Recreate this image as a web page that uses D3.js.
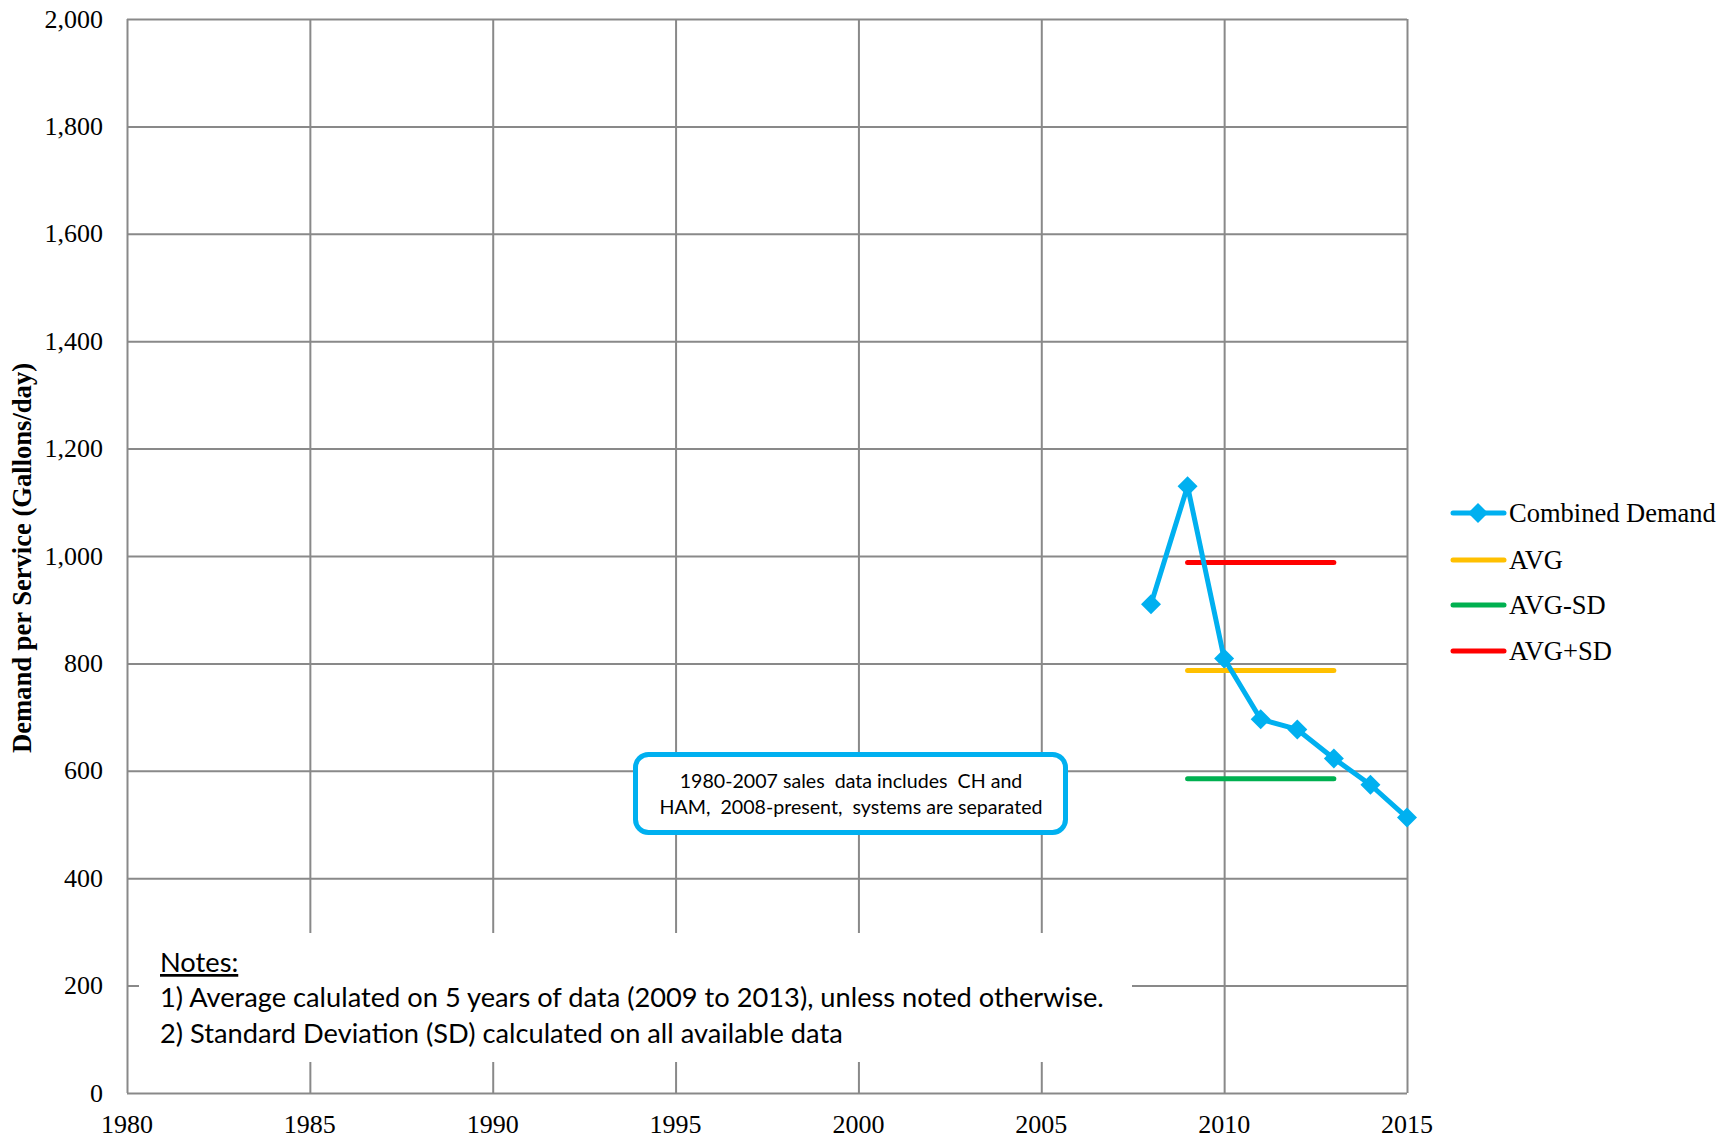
<!DOCTYPE html>
<html><head><meta charset="utf-8">
<script src="https://cdn.jsdelivr.net/npm/d3@7/dist/d3.min.js"></script>
<style>html,body{margin:0;padding:0;background:#fff;}svg{display:block;}</style>
</head><body>
<svg id="chart" width="1735" height="1142"></svg>
<script>
// ---- data ----
const years = [2008, 2009, 2010, 2011, 2012, 2013, 2014, 2015];
const combinedDemand = [910, 1130, 809, 696, 677, 623, 574, 513];
const statSpan = [2009, 2013];
const avgValue = 787;
const avgMinusSD = 585;
const avgPlusSD = 988;
const xTicks = [1980, 1985, 1990, 1995, 2000, 2005, 2010, 2015];
const yTicks = [0, 200, 400, 600, 800, 1000, 1200, 1400, 1600, 1800, 2000];
const legendLabels = ["Combined Demand", "AVG", "AVG-SD", "AVG+SD"];
const yTitle = "Demand per Service (Gallons/day)";
const noteLines = ["Notes:", "1) Average calulated on 5 years of data (2009 to 2013), unless noted otherwise.", "2) Standard Deviation (SD) calculated on all available data"];
const calloutLines = ["1980-2007 sales  data includes  CH and", "HAM,  2008-present,  systems are separated"];

// ---- layout ----
const L = 127, R = 1407, T = 19, B = 1093;
const serif = "'Liberation Serif','Times New Roman',serif";
const sans = "Lato,'Open Sans',sans-serif";
const gridColor = "#898989";
const cBlue = "#00B0F0", cAvg = "#FFC000", cLow = "#00B050", cHigh = "#FF0000";

const svg = d3.select("#chart");
const x = d3.scaleLinear().domain([1980, 2015]).range([L, R]);
const y = d3.scaleLinear().domain([0, 2000]).range([B, T]);

// gridlines via axes
svg.append("g").attr("transform", `translate(0,${B})`)
  .call(d3.axisBottom(x).tickValues(xTicks).tickSize(-(B - T)).tickFormat(""))
  .call(g => { g.select(".domain").remove(); g.selectAll("line").attr("stroke", gridColor).attr("stroke-width", 2); });
svg.append("g").attr("transform", `translate(${L},0)`)
  .call(d3.axisLeft(y).tickValues(yTicks).tickSize(-(R - L)).tickFormat(""))
  .call(g => { g.select(".domain").remove(); g.selectAll("line").attr("stroke", gridColor).attr("stroke-width", 2); });

// tick labels
svg.append("g").selectAll("text").data(yTicks).join("text")
  .attr("x", 103).attr("y", d => y(d)).attr("dy", "0.33em")
  .attr("text-anchor", "end").attr("font-family", serif).attr("font-size", 26).attr("fill", "#000")
  .text(d => d3.format(",")(d));
svg.append("g").selectAll("text").data(xTicks).join("text")
  .attr("x", d => x(d)).attr("y", 1133)
  .attr("text-anchor", "middle").attr("font-family", serif).attr("font-size", 26).attr("fill", "#000")
  .text(d => d);

// y title
function fit(sel, target) {
  const n = sel.node(); const fs = parseFloat(sel.attr("font-size"));
  const w = n.getComputedTextLength(); if (w > 0) sel.attr("font-size", (fs * target / w).toFixed(2));
}
const yt = svg.append("text").attr("transform", "translate(31,558) rotate(-90)")
  .attr("text-anchor", "middle").attr("font-family", serif).attr("font-weight", "bold")
  .attr("font-size", 27).attr("fill", "#000").text(yTitle);
fit(yt, 390);

// notes box (white, covers grid)
svg.append("rect").attr("x", 139).attr("y", 933).attr("width", 1132 - 139).attr("height", 1062 - 933).attr("fill", "#fff");
const noteG = svg.append("g");
const noteBase = [972, 1007, 1043];
const n1 = noteG.append("text").attr("x", 160).attr("y", noteBase[1]).attr("font-family", sans)
  .attr("font-size", 26).attr("fill", "#000").text(noteLines[1]);
fit(n1, 944);
const nfs = n1.attr("font-size");
noteG.append("text").attr("x", 160).attr("y", noteBase[0]).attr("font-family", sans)
  .attr("font-size", nfs).attr("fill", "#000").attr("text-decoration", "underline").text(noteLines[0]);
noteG.append("text").attr("x", 160).attr("y", noteBase[2]).attr("font-family", sans)
  .attr("font-size", nfs).attr("fill", "#000").text(noteLines[2]);

// callout box
svg.append("rect").attr("x", 635.5).attr("y", 754.5).attr("width", 430).attr("height", 78)
  .attr("rx", 13).attr("ry", 13).attr("fill", "#fff").attr("stroke", cBlue).attr("stroke-width", 5);
const c2 = svg.append("text").attr("x", 851).attr("y", 814).attr("text-anchor", "middle")
  .attr("font-family", sans).attr("font-size", 19).attr("fill", "#000")
  .style("white-space", "pre").text(calloutLines[1]);
fit(c2, 383);
svg.append("text").attr("x", 851).attr("y", 788).attr("text-anchor", "middle")
  .attr("font-family", sans).attr("font-size", c2.attr("font-size")).attr("fill", "#000")
  .style("white-space", "pre").text(calloutLines[0]);

// stat lines
const stats = [[avgPlusSD, cHigh], [avgValue, cAvg], [avgMinusSD, cLow]];
svg.append("g").selectAll("line").data(stats).join("line")
  .attr("x1", x(statSpan[0])).attr("x2", x(statSpan[1]))
  .attr("y1", d => y(d[0])).attr("y2", d => y(d[0]))
  .attr("stroke", d => d[1]).attr("stroke-width", 5).attr("stroke-linecap", "round");

// combined demand
const pts = years.map((yr, i) => [yr, combinedDemand[i]]);
svg.append("path").datum(pts)
  .attr("d", d3.line().x(d => x(d[0])).y(d => y(d[1])))
  .attr("fill", "none").attr("stroke", cBlue).attr("stroke-width", 5).attr("stroke-linejoin", "round");
const marker = d3.symbol().type(d3.symbolSquare).size(200);
svg.append("g").selectAll("path").data(pts).join("path")
  .attr("d", marker).attr("transform", d => `translate(${x(d[0])},${y(d[1])}) rotate(45)`)
  .attr("fill", cBlue);

// legend
const legY = [513, 560, 605, 651];
const legColors = [cBlue, cAvg, cLow, cHigh];
const lg = svg.append("g");
legendLabels.forEach((lab, i) => {
  lg.append("line").attr("x1", 1453).attr("x2", 1504).attr("y1", legY[i]).attr("y2", legY[i])
    .attr("stroke", legColors[i]).attr("stroke-width", 5).attr("stroke-linecap", "round");
  if (i === 0) lg.append("path").attr("d", marker)
    .attr("transform", `translate(1478,${legY[i]}) rotate(45)`).attr("fill", cBlue);
  lg.append("text").attr("x", 1509).attr("y", legY[i]).attr("dy", "0.33em")
    .attr("font-family", serif).attr("font-size", 26.5).attr("fill", "#000").text(lab);
});
</script>
</body></html>
